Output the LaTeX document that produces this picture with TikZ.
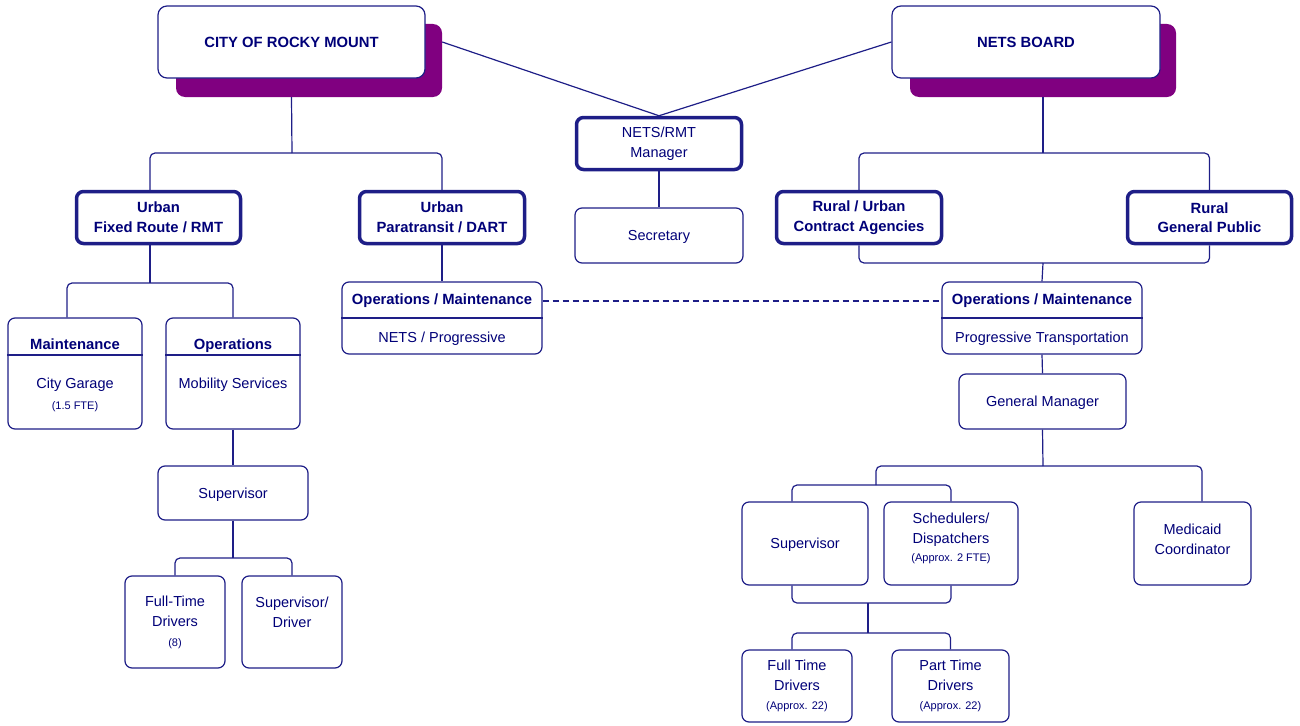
\documentclass[tikz,border=0pt]{standalone}
\usepackage{fontspec}
\setmainfont{Liberation Sans}
\definecolor{navytext}{RGB}{0,0,120}
\definecolor{navyline}{RGB}{30,30,135}
\definecolor{shadowpurple}{RGB}{128,0,128}
\newcommand\orgfont{\fontsize{14.5}{20}\selectfont}
\newcommand\orgbold{\fontsize{14.8}{19.5}\selectfont\bfseries}
\newcommand\orgsmall{\fontsize{11}{13}\selectfont}

\tikzset{
  boxsize/.style 2 args={minimum width=#1, minimum height=#2},
  orgbox/.style={draw=navyline, line width=1.2pt, rounded corners=7pt, fill=white, text=navytext, align=center, inner sep=0pt, font=\orgfont},
  keybox/.style={orgbox, line width=3.5pt, font=\orgbold},
  topbox/.style={orgbox, rounded corners=9pt, font=\orgbold},
  shadowbox/.style={fill=shadowpurple, rounded corners=9pt, inner sep=0pt},
  orgtext/.style={text=navytext, inner sep=0pt, align=center, font=\orgfont},
  headtext/.style={orgtext, font=\orgbold},
  smalltext/.style={orgtext, font=\orgsmall},
  conn/.style={draw=navyline, line width=1.2pt, rounded corners=5pt},
}

\begin{document}
\begin{tikzpicture}[x=1pt, y=-1pt]
        \useasboundingbox (0,0) rectangle (1300,725);

        \node[shadowbox, boxsize={266}{73}] (cityshadow) at (309,60.5) {};
        \node[topbox, boxsize={267}{72}] (city) at (291.5,42) {CITY OF ROCKY MOUNT};
        \node[shadowbox, boxsize={266}{73}] (boardshadow) at (1043,60.5) {};
        \node[topbox, boxsize={268}{72}] (board) at (1026,42) {NETS BOARD};

        \node[keybox, font=\orgfont, boxsize={165}{52}] (manager) at (659,143.5) {NETS/RMT\\Manager};
        \node[orgbox, text depth=0pt, boxsize={168}{55}] (secretary) at (659,235.5) {Secretary};

        \node[keybox, boxsize={164}{52}] (fixed) at (158.5,217.5) {Urban\\Fixed Route / RMT};
        \node[keybox, boxsize={165}{52}] (para) at (442,217.5) {Urban\\Paratransit / DART};
        \node[keybox, boxsize={165}{52}] (contract) at (859,217.5) {Rural / Urban\\Contract Agencies};
        \node[keybox, boxsize={164}{52}] (public) at (1209.5,217.5) {Rural\\General Public};

        \node[orgbox, boxsize={200}{72}] (opsL) at (442,318) {};
        \draw[conn] (opsL.west) -- (opsL.east);
        \node[headtext] (opsLhead) at (442,301) {Operations / Maintenance};
        \node[orgtext] (opsLbody) at (442,339) {NETS / Progressive};

        \node[orgbox, boxsize={200}{72}] (opsR) at (1042,318) {};
        \draw[conn] (opsR.west) -- (opsR.east);
        \node[headtext] (opsRhead) at (1042,301) {Operations / Maintenance};
        \node[orgtext] (opsRbody) at (1042,339) {Progressive Transportation};

        \node[orgbox, boxsize={134}{111}] (maint) at (75,373.5) {};
        \draw[conn] (maint.west |- 0,355) -- (maint.east |- 0,355);
        \node[headtext] (mainthead) at (75,344) {Maintenance};
        \node[orgtext] (maintbody) at (75,385) {City Garage};
        \node[smalltext] (maintfte) at (75,407) {(1.5 FTE)};

        \node[orgbox, boxsize={134}{111}] (mobil) at (233,373.5) {};
        \draw[conn] (mobil.west |- 0,355) -- (mobil.east |- 0,355);
        \node[headtext] (mobilhead) at (233,346) {Operations};
        \node[orgtext] (mobilbody) at (233,385) {Mobility Services};

        \node[orgbox, text depth=0pt, boxsize={150}{54}] (supL) at (233,493) {Supervisor};
        \node[orgbox, boxsize={100}{92}] (ftd) at (175,622) {Full-Time\\Drivers\\{\orgsmall (8)}};
        \node[orgbox, boxsize={100}{92}] (sdrv) at (292,622) {};
        \node[orgtext] (sdrvtext) at (292,612.5) {Supervisor/\\Driver};

        \node[orgbox, text depth=0pt, boxsize={167}{55}] (gm) at (1042.5,401.5) {General Manager};
        \node[orgbox, text depth=0pt, boxsize={126}{83}] (supR) at (805,543.5) {Supervisor};
        \node[orgbox, boxsize={134}{83}] (sched) at (951,543.5) {};
        \node[orgtext] (schedtext) at (951,538.5) {Schedulers/\\Dispatchers\\[-2pt]{\orgsmall (Approx. 2 FTE)}};
        \node[orgbox, boxsize={117}{83}] (medicaid) at (1192.5,543.5) {};
        \node[orgtext] (medicaidtext) at (1192.5,539) {Medicaid\\Coordinator};
        \node[orgbox, boxsize={110}{72}] (ftdR) at (797,686) {Full Time\\Drivers\\[-1pt]{\orgsmall (Approx. 22)}};
        \node[orgbox, boxsize={117}{72}] (ptd) at (950.5,686) {Part Time\\Drivers\\[-1pt]{\orgsmall (Approx. 22)}};

        \coordinate (citysplit) at (292,153);
        \coordinate (boardsplit) at (1043,153);
        \coordinate (ruraljoin) at (1043,263);
        \coordinate (fixedsplit) at (150,283);
        \coordinate (supLsplit) at (233,558);
        \coordinate (gmsplit) at (1043,466);
        \coordinate (stafftop) at (876,485);
        \coordinate (schedjoin) at (868,603);
        \coordinate (driversplit) at (868,633);

        \draw[conn] (cityshadow.east |- city.east) -- (manager.north);
        \draw[conn] (board.west) -- (manager.north);
        \draw[conn] (manager.south) -- (secretary.north);

        \draw[conn] (city.south |- cityshadow.south) -- (citysplit);
        \draw[conn] ([xshift=-8.5pt]fixed.north) |- (citysplit) -| (para.north);
        \draw[conn] (boardshadow.south) -- (boardsplit);
        \draw[conn] (contract.north) |- (boardsplit) -| (public.north);
        \draw[conn] (contract.south) |- (ruraljoin) -| (public.south);
        \draw[conn] (ruraljoin) -- (opsR.north);
        \draw[conn] (para.south) -- (opsL.north);
        \draw[conn, dash pattern=on 6pt off 4pt] (opsL.east |- opsLhead) -- (opsR.west |- opsRhead);

        \draw[conn] ([xshift=-8.5pt]fixed.south) -- (fixedsplit);
        \draw[conn] ([xshift=-8pt]maint.north) |- (fixedsplit) -| (mobil.north);
        \draw[conn] (mobil.south) -- (supL.north);
        \draw[conn] (supL.south) -- (supLsplit);
        \draw[conn] (ftd.north) |- (supLsplit) -| (sdrv.north);

        \draw[conn] (opsR.south) -- (gm.north);
        \draw[conn] (gm.south) -- (gmsplit);
        \draw[conn] (stafftop) |- (gmsplit) -| ([xshift=9.5pt]medicaid.north);
        \draw[conn] ([xshift=-13pt]supR.north) |- (stafftop) -| (sched.north);
        \draw[conn] ([xshift=-13pt]supR.south) |- (schedjoin) -| (sched.south);
        \draw[conn] (schedjoin) -- (driversplit);
        \draw[conn] ([xshift=-5pt]ftdR.north) |- (driversplit) -| (ptd.north);
\end{tikzpicture}
\end{document}
